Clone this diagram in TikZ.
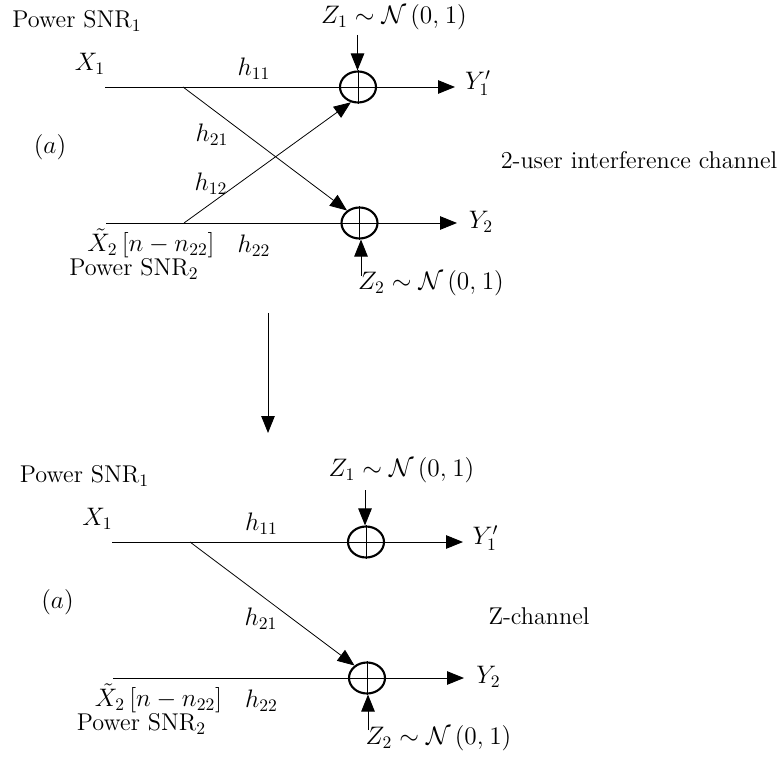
\documentclass[tikz,border=0pt]{standalone}
\usepackage{amsmath,amssymb}
\usepackage{tikz}
\usetikzlibrary{arrows.meta,shapes.geometric}

\tikzset{
  sumnode/.style={draw,ellipse,line width=1.2pt,inner sep=0pt,minimum width=0.72cm,minimum height=0.62cm},
  feed/.style={line width=0.55pt},
  feedarrow/.style={line width=0.55pt,-{Triangle[length=0.34cm,width=0.27cm]}},
  cross/.style={line width=0.4pt},
  crossarrow/.style={line width=0.45pt,-{Triangle[length=0.34cm,width=0.27cm]}},
  plain/.style={font=\fontsize{13.8}{16}\selectfont}
}

\begin{document}
\begin{tikzpicture}[every node/.style={inner sep=1pt,font=\fontsize{14.4}{17}\selectfont}]
  \useasboundingbox (0,0) rectangle (15.68,15.12);
  % upper channel
  \coordinate (inA) at (2.10,13.38);
  \coordinate (splitA) at (3.66,13.38);
  \coordinate (outA) at (9.10,13.38);
  \coordinate (inB) at (2.12,10.66);
  \coordinate (splitB) at (3.68,10.66);
  \coordinate (outB) at (9.14,10.66);
  \coordinate (noiseA) at (7.15,14.42);
  \coordinate (noiseB) at (7.22,9.60);
  \node[sumnode] (sumA) at (7.16,13.38) {};
  \node[sumnode] (sumB) at (7.19,10.66) {};
  \draw[cross] (sumA.north) -- (sumA.south);
  \draw[cross] (sumB.north) -- (sumB.south);
  \draw[feed] (inA) -- (sumA.east);
  \draw[feed] (inB) -- (sumB.east);
  \draw[feedarrow] (sumA.east) -- (outA);
  \draw[feedarrow] (sumB.east) -- (outB);
  \draw[feedarrow] (noiseA) -- (noiseA |- sumA.north);
  \draw[feedarrow] (noiseB) -- (noiseB |- sumB.south);
  \draw[crossarrow] (splitA) -- (sumB.135);
  \draw[crossarrow] (splitB) -- (sumA.-115);
  \node[plain] (powerA) at (1.54,14.70) {Power SNR$_1$};
  \node (noiseAlabel) at (7.88,14.78) {$Z_1\sim\mathcal{N}\left(0,\mkern1mu 1\right)$};
  \node (xA) at (1.80,13.84) {$X_1$};
  \node (hAA) at (5.08,13.74) {$h_{11}$};
  \node (yA) at (9.56,13.46) {$Y_1'$};
  \node (hBA) at (4.24,12.42) {$h_{21}$};
  \node (caseA) at (1.00,12.18) {$(a)$};
  \node (hAB) at (4.22,11.44) {$h_{12}$};
  \node[plain] (nameA) at (12.78,11.92) {2-user interference channel};
  \node (xB) at (3.02,10.26) {$\tilde{X}_2\left[n-n_{22}\right]$};
  \node (hBB) at (5.08,10.20) {$h_{22}$};
  \node (yB) at (9.62,10.68) {$Y_2$};
  \node[plain] (powerB) at (2.68,9.74) {Power SNR$_2$};
  \node (noiseBlabel) at (8.62,9.46) {$Z_2\sim\mathcal{N}\left(0,\mkern1mu 1\right)$};
  % big arrow
  \coordinate (stepU) at (5.36,8.86);
  \coordinate (stepD) at (5.36,6.46);
  \draw[feedarrow] (stepU) -- (stepD);
  % lower channel
  \coordinate (inC) at (2.24,4.28);
  \coordinate (splitC) at (3.80,4.28);
  \coordinate (outC) at (9.26,4.28);
  \coordinate (inD) at (2.26,1.56);
  \coordinate (outD) at (9.28,1.56);
  \coordinate (noiseC) at (7.30,5.32);
  \coordinate (noiseD) at (7.36,0.52);
  \node[sumnode] (sumC) at (7.32,4.28) {};
  \node[sumnode] (sumD) at (7.34,1.56) {};
  \draw[cross] (sumC.north) -- (sumC.south);
  \draw[cross] (sumD.north) -- (sumD.south);
  \draw[feed] (inC) -- (sumC.east);
  \draw[feed] (inD) -- (sumD.east);
  \draw[feedarrow] (sumC.east) -- (outC);
  \draw[feedarrow] (sumD.east) -- (outD);
  \draw[feedarrow] (noiseC) -- (noiseC |- sumC.north);
  \draw[feedarrow] (noiseD) -- (noiseD |- sumD.south);
  \draw[crossarrow] (splitC) -- (sumD.135);
  \node[plain] (powerC) at (1.69,5.60) {Power SNR$_1$};
  \node (noiseClabel) at (8.03,5.72) {$Z_1\sim\mathcal{N}\left(0,\mkern1mu 1\right)$};
  \node (xC) at (1.95,4.74) {$X_1$};
  \node (hCC) at (5.23,4.64) {$h_{11}$};
  \node (yC) at (9.71,4.36) {$Y_1'$};
  \node (hDC) at (5.22,2.74) {$h_{21}$};
  \node (caseC) at (1.15,3.08) {$(a)$};
  \node[plain] (nameC) at (10.78,2.80) {Z-channel};
  \node (xD) at (3.17,1.16) {$\tilde{X}_2\left[n-n_{22}\right]$};
  \node (hDD) at (5.23,1.10) {$h_{22}$};
  \node (yD) at (9.77,1.58) {$Y_2$};
  \node[plain] (powerD) at (2.83,0.64) {Power SNR$_2$};
  \node (noiseDlabel) at (8.77,0.36) {$Z_2\sim\mathcal{N}\left(0,\mkern1mu 1\right)$};
\end{tikzpicture}
\end{document}
